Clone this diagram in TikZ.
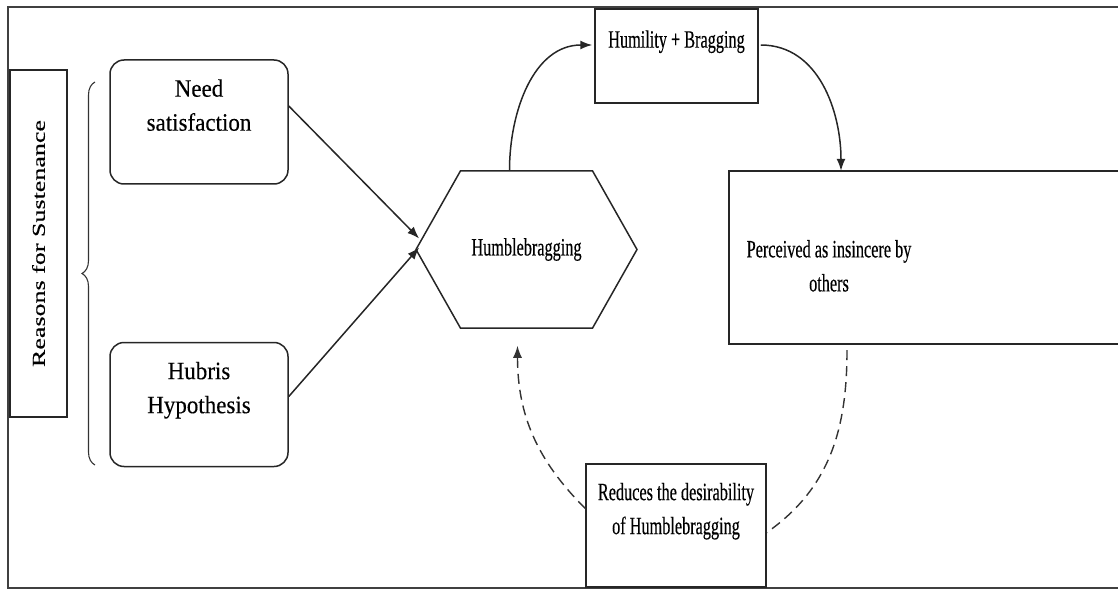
\documentclass[tikz,border=0pt]{standalone}
\usepackage{fontspec}
\setmainfont{Liberation Serif}[FakeBold=0.3]
\newfontfamily\wideserif{Liberation Serif}[FakeStretch=0.92, FakeBold=0.3]
\newfontfamily\tightserif{Liberation Serif}[FakeStretch=0.65, FakeBold=0.3]
\usepackage{tikz}
\usetikzlibrary{shapes.symbols, arrows.meta, calc, decorations.pathreplacing}
\tikzstyle{sidebox} = [rectangle, 
minimum width=347pt, 
minimum height=57pt, 
draw=black!85, line width=1.5pt,
font=\fontsize{26}{30}\selectfont]
\tikzstyle{reason} = [rectangle, 
rounded corners=14pt, 
minimum width=178pt, 
minimum height=124pt, 
align=center, 
draw=black!85, line width=1.5pt,
font=\wideserif\fontsize{25}{34}\selectfont]
\tikzstyle{effect} = [rectangle, 
align=center, 
draw=black!85, line width=1.5pt,
font=\tightserif\fontsize{25}{34}\selectfont]
\tikzstyle{hexa} = [signal, 
signal to=west and east, 
signal pointer angle=121, 
minimum width=221pt, 
minimum height=157pt, 
draw=black!85, line width=1.5pt,
font=\tightserif\fontsize{25}{34}\selectfont]
\tikzstyle{boxline} = [draw=black!85, line width=1.5pt]
\tikzstyle{frameline} = [draw=black!75, line width=1.5pt]
\tikzstyle{arrow} = [line width=1.5pt, draw=black!85, -{Latex[length=12pt,width=9pt]}]
\tikzstyle{dashline} = [line width=1.4pt, draw=black!80, dash pattern=on 10pt off 6pt]
\tikzstyle{feedback} = [dashline, -{Latex[length=12pt,width=9pt]}]

\begin{document}
\begin{tikzpicture}[x=1pt, y=1pt]
    \useasboundingbox (0,0) rectangle (1118,590);
    \clip (0,0) rectangle (1118,590);
    \draw [frameline] (1130,583) -| (8,2) -- (1130,2);

    \node (reasons) [sidebox, rotate=90] at (38.5,346.5) {\scalebox{1}[0.7]{Reasons for Sustenance}};
    \draw [line width=1.1pt, draw=black!80, decorate, decoration={brace, amplitude=13pt}] (95,125) -- (95,508);
    \node (need) [reason] at (199,468) {Need\\satisfaction\\\mbox{}};
    \node (hubris) [reason] at (199,185.5) {Hubris\\Hypothesis\\\mbox{}};

    \node (hb) [hexa] at (526.5,340.5) {Humblebragging};
    \node (hum) [effect, minimum width=163pt, minimum height=94pt] at (676.5,534) {Humility + Bragging\\\mbox{}};
    \node (perc) [font=\tightserif\fontsize{25}{34}\selectfont, align=center, minimum width=200pt, minimum height=173pt] at (829,332.5) {\mbox{}\\Perceived as insincere by\\others};
    \draw [boxline] (perc.south west) rectangle ++(420,173); % box runs off the right edge
    \node (red) [effect, minimum width=180pt, minimum height=123pt] at (676,64.5) {Reduces the desirability\\of Humblebragging\\\mbox{}};

    \draw [arrow] ($(need.east)+(0,16)$) -- ($(hb.west)+(4,11)$);
    \draw [arrow] ($(hubris.east)+(0,8)$) -- ($(hb.west)+(4,2)$);
    \draw [arrow] ($(hb.north)+(-17,0)$) to[out=90, in=180] ($(hum.west)+(-2,11)$);
    \draw [arrow] ($(hum.east)+(2,11)$) to[out=0, in=90] ($(perc.north)+(12,0)$);
    \draw [dashline] ($(perc.south)+(18,-6)$) to[out=-90, in=35] ($(red.east)+(0,-7)$);
    \draw [feedback] ($(red.west)+(0,17)$) to[out=135, in=-90] ($(hb.south)+(-9,-17)$);
\end{tikzpicture}
\end{document}
